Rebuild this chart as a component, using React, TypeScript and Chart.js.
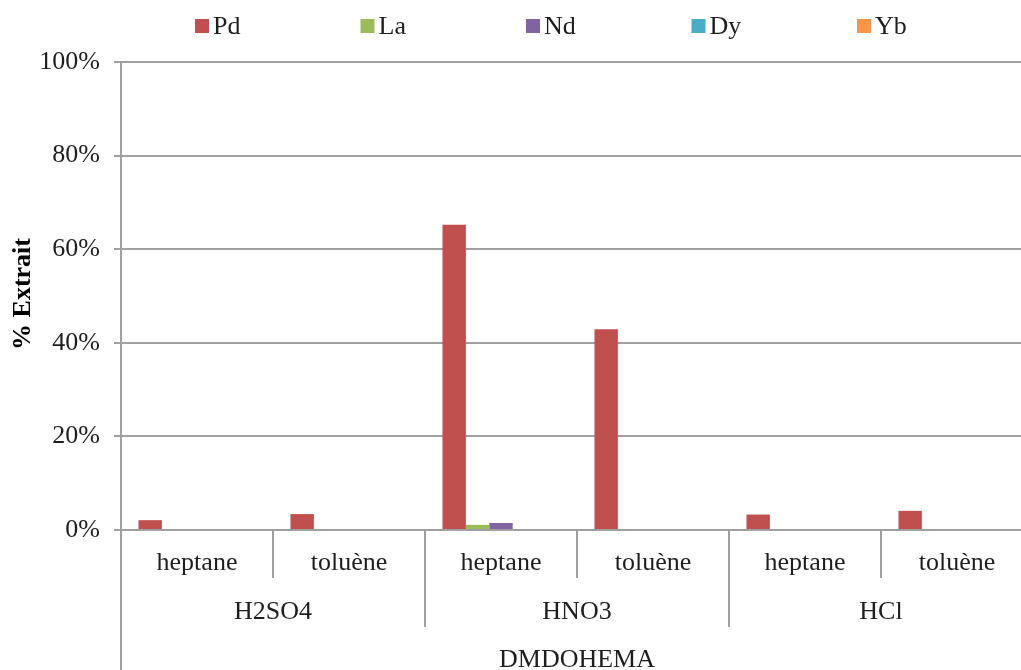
import React, { useEffect, useRef } from "react";
import { Chart, registerables } from "chart.js";

Chart.register(...registerables);

const solvents = ["heptane", "toluène", "heptane", "toluène", "heptane", "toluène"];
const acids = ["H2SO4", "HNO3", "HCl"];
const extractant = "DMDOHEMA";

const seriesNames = ["Pd", "La", "Nd", "Dy", "Yb"];
const seriesColors = ["#C0504D", "#9BBB59", "#8064A2", "#4BACC6", "#F79646"];
const pdValues = [2.1, 3.4, 65.2, 42.9, 3.3, 4.1];
const laValues = [0, 0, 1.1, 0, 0, 0];
const ndValues = [0, 0, 1.5, 0, 0, 0];
const dyValues = [0, 0, 0, 0, 0, 0];
const ybValues = [0, 0, 0, 0, 0, 0];
const yTicks = [0, 20, 40, 60, 80, 100];
const yTitle = "% Extrait";

const FONT = "'Liberation Serif', 'Times New Roman', serif";
const GRID = "#a0a0a0";
const TEXT = "#1e1e1e";

const hierarchyPlugin = {
  id: "hierarchy",
  afterDraw(chart: any) {
    const ctx = chart.ctx;
    const xs = chart.scales.x;
    const area = chart.chartArea;
    const n = solvents.length;
    const w = (area.right - area.left) / n;
    const base = area.bottom;
    ctx.save();
    ctx.strokeStyle = GRID;
    ctx.lineWidth = 2;
    for (let i = 0; i <= n; i++) {
      const x = i < n ? xs.getPixelForValue(i) - w / 2 : xs.getPixelForValue(n - 1) + w / 2;
      let end = base + 48;
      if (i % 2 === 0) end = base + 97;
      if (i === 0) end = chart.height;
      ctx.beginPath();
      ctx.moveTo(Math.round(x), base);
      ctx.lineTo(Math.round(x), end);
      ctx.stroke();
    }
    ctx.fillStyle = TEXT;
    ctx.font = `26px ${FONT}`;
    ctx.textAlign = "center";
    ctx.textBaseline = "middle";
    for (let i = 0; i < n; i++) {
      ctx.fillText(solvents[i], xs.getPixelForValue(i), base + 33);
    }
    for (let g = 0; g < acids.length; g++) {
      const cx = (xs.getPixelForValue(2 * g) + xs.getPixelForValue(2 * g + 1)) / 2;
      ctx.fillText(acids[g], cx, base + 82);
    }
    const cAll = (area.left + area.right) / 2;
    ctx.fillText(extractant, cAll, base + 130);

    // legend
    const ds = chart.data.datasets;
    ctx.textAlign = "left";
    for (let i = 0; i < ds.length; i++) {
      const bx = 195 + i * 165.5;
      ctx.fillStyle = ds[i].backgroundColor;
      ctx.fillRect(bx, 19, 14, 14);
      ctx.fillStyle = TEXT;
      ctx.fillText(ds[i].label, bx + 18, 27);
    }

    // y title
    ctx.save();
    ctx.translate(23, 294);
    ctx.rotate(-Math.PI / 2);
    ctx.font = `bold 26px ${FONT}`;
    ctx.textAlign = "center";
    ctx.fillStyle = "#000";
    ctx.fillText(yTitle, 0, 0);
    ctx.restore();
    ctx.restore();
  },
};

export default function App() {
  const ref = useRef<HTMLCanvasElement | null>(null);
  useEffect(() => {
    if (!ref.current) return;
    const values = [pdValues, laValues, ndValues, dyValues, ybValues];
    const chart = new Chart(ref.current, {
      type: "bar",
      data: {
        labels: solvents.map((s, i) => `${acids[Math.floor(i / 2)]} ${s}`),
        datasets: seriesNames.map((name, i) => ({
          label: name,
          data: values[i],
          backgroundColor: seriesColors[i],
          borderWidth: 0,
          barPercentage: 1,
          categoryPercentage: 0.77,
        })),
      },
      options: {
        animation: false,
        responsive: false,
        devicePixelRatio: 1,
        layout: { padding: { top: 62, right: 12, left: 0, bottom: 0 } },
        plugins: {
          legend: { display: false },
          tooltip: { enabled: false },
          title: { display: false },
        },
        scales: {
          x: {
            ticks: { display: false },
            grid: { display: false },
            border: { display: false },
            afterFit: (s: any) => {
              s.height = 140;
            },
          },
          y: {
            min: 0,
            max: 100,
            afterBuildTicks: (s: any) => {
              s.ticks = yTicks.map((v) => ({ value: v }));
            },
            ticks: {
              callback: (v: any) => `${v}%`,
              font: { family: FONT, size: 26 },
              color: TEXT,
              padding: 14,
            },
            grid: { color: GRID, lineWidth: 2, tickLength: 7, drawTicks: true },
            border: { display: true, color: GRID, width: 2 },
            afterFit: (s: any) => {
              s.width = 121;
            },
          },
        },
      },
      plugins: [hierarchyPlugin],
    });
    return () => chart.destroy();
  }, []);
  return (
    <div style={{ position: "fixed", left: 0, top: 0, width: 1021, height: 670, overflow: "hidden", background: "#fff" }}>
      <canvas ref={ref} width={1045} height={670} style={{ display: "block" }} />
    </div>
  );
}
